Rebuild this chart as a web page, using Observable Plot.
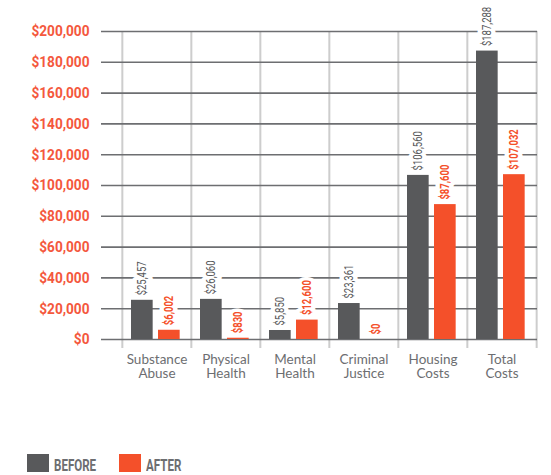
<!DOCTYPE html>
<html><head><meta charset="utf-8">
<script src="https://cdn.jsdelivr.net/npm/d3@7"></script>
<script src="https://cdn.jsdelivr.net/npm/@observablehq/plot@0.6"></script>
<style>
body{margin:0;background:#fff;}
#chart svg{display:block;overflow:visible;}
#legend{position:relative;height:75px;}
.sw{position:absolute;width:22px;height:18px;top:54px;}
.lt{position:absolute;top:57px;font-family:Roboto,sans-serif;font-weight:bold;font-size:17px;color:#6d6e71;line-height:17px;transform:scaleX(0.68);transform-origin:left center;white-space:nowrap;}
</style></head><body><div id="chart"></div><div id="legend"></div>
<script>
const categories = ["Substance Abuse","Physical Health","Mental Health","Criminal Justice","Housing Costs","Total Costs"];
const beforeValues = [25457,26060,5850,23361,106560,187288];
const afterValues = [6002,830,12600,0,87600,107032];
const yTicks = [0,20000,40000,60000,80000,100000,120000,140000,160000,180000,200000];
const seriesNames = ["BEFORE","AFTER"];
const seriesColors = ["#58595b","#f4502a"];

const before = categories.map((c,i)=>({category:c, value:beforeValues[i]}));
const after = categories.map((c,i)=>({category:c, value:afterValues[i]}));
const fmt = d3.format("$,");
const bw = (537-121)/6;
const cond = 'Roboto, sans-serif';

const chart = Plot.plot({
  width: 551, height: 400,
  marginTop: 31, marginLeft: 101, marginRight: 14, marginBottom: 52,
  x: {type:"band", domain: categories, padding: 0, insetLeft: 20},
  y: {domain:[0,200000], insetBottom: 9},
  marks: [
    Plot.ruleX(categories, {x: d=>d, dx: -bw/2, stroke:"#cdcdcd", strokeWidth:2}),
    Plot.ruleX([categories[categories.length-1]], {x: d=>d, dx: bw/2, stroke:"#cdcdcd", strokeWidth:2}),
    Plot.ruleY(yTicks, {y: d=>d, stroke:"#6d6e71", strokeWidth:1.6}),
    Plot.barY(before, {x:"category", y:"value", fill: seriesColors[0], insetLeft: 9, insetRight: bw-31}),
    Plot.barY(after, {x:"category", y:"value", fill: seriesColors[1], insetLeft: 36, insetRight: bw-58}),
    Plot.text(before, {x:"category", y:"value", text: d=>fmt(d.value), rotate:-90, textAnchor:"start", lineAnchor:"middle",
      dx: 20-bw/2, dy:-5, fill: seriesColors[0], stroke:"white", strokeWidth:9, paintOrder:"stroke",
      fontFamily: cond, fontSize: 12.5}),
    Plot.text(after, {x:"category", y:"value", text: d=>fmt(d.value), rotate:-90, textAnchor:"start", lineAnchor:"middle",
      dx: 47-bw/2, dy:-5, fill: seriesColors[1], stroke:"white", strokeWidth:9, paintOrder:"stroke",
      fontFamily: cond, fontSize: 12.5, fontWeight:"bold"}),
    Plot.axisY({ticks: yTicks, tickFormat: fmt, tickSize:0, tickPadding:12, color: "#f4583d",
      fontFamily: cond, fontSize: 15.5, fontWeight: "bold", label: null}),
    Plot.axisX({tickSize:0, tickPadding:5, tickFormat: d=>d.replace(" ","\n"), lineHeight: 1.05,
      color:"#6d6e71", fontFamily:"Lato, sans-serif", fontSize: 13.5, label: null})
  ]
});
// condense glyphs horizontally (along the reading direction)
function condense(selector, sx) {
  chart.querySelectorAll(selector).forEach(t => {
    const tr = t.getAttribute("transform") || "";
    t.setAttribute("transform", tr + ` scale(${sx},1)`);
  });
}
condense('g[aria-label="y-axis tick label"] text', 0.88);
condense('g[aria-label="text"] text', 0.76);
document.getElementById("chart").appendChild(chart);

const legend = document.getElementById("legend");
const lx = [27, 119];
seriesNames.forEach((name,i)=>{
  const s = document.createElement("div");
  s.className = "sw"; s.style.left = lx[i]+"px"; s.style.background = seriesColors[i];
  legend.appendChild(s);
  const t = document.createElement("div");
  t.className = "lt"; t.style.left = (lx[i]+27)+"px"; t.textContent = name;
  legend.appendChild(t);
});
</script></body></html>
